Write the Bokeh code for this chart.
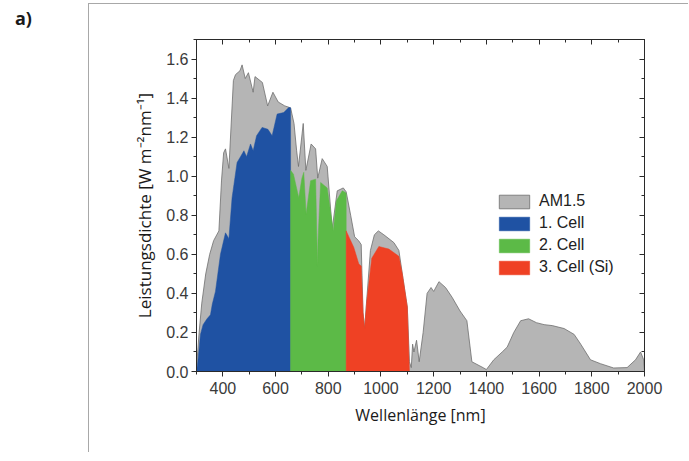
from bokeh.plotting import figure
from bokeh.models import (Range1d, LinearAxis, FixedTicker, PrintfTickFormatter,
                          Legend, LegendItem, Div)
from bokeh.layouts import row
from bokeh.embed import file_html
from bokeh.resources import INLINE

# ---------------- data ----------------
am15_nm = [300, 310, 320, 335, 350, 365, 385, 395, 403, 410, 423, 440, 448, 465, 473,
           485, 497, 515, 522, 550, 570, 590, 610, 635, 657, 670, 680, 687, 705, 715,
           735, 752, 760, 777, 796, 815, 834, 857, 868, 885, 900, 915, 925, 932, 938,
           945, 960, 975, 990, 1011, 1049, 1068, 1081, 1100, 1108, 1115, 1120, 1125,
           1135, 1145, 1160, 1175, 1190, 1200, 1220, 1245, 1270, 1300, 1326, 1345,
           1390, 1400, 1428, 1460, 1479, 1504, 1530, 1560, 1590, 1619, 1650, 1695,
           1733, 1758, 1795, 1833, 1883, 1934, 1966, 1985, 1997, 2000]
am15_val = [0.02, 0.20, 0.35, 0.50, 0.60, 0.67, 0.72, 0.98, 1.12, 1.14, 1.04, 1.49, 1.52,
            1.54, 1.57, 1.50, 1.53, 1.43, 1.51, 1.48, 1.36, 1.43, 1.38, 1.36, 1.35, 1.27,
            1.13, 1.05, 1.27, 1.03, 1.165, 1.14, 0.99, 1.09, 1.05, 0.73, 0.925, 0.94,
            0.92, 0.80, 0.69, 0.67, 0.65, 0.30, 0.22, 0.35, 0.62, 0.70, 0.72, 0.70, 0.66,
            0.62, 0.50, 0.33, 0.05, 0.02, 0.14, 0.10, 0.16, 0.05, 0.20, 0.40, 0.43, 0.41,
            0.46, 0.43, 0.38, 0.31, 0.26, 0.05, 0.018, 0.01, 0.06, 0.10, 0.125, 0.20,
            0.26, 0.27, 0.25, 0.24, 0.235, 0.22, 0.19, 0.14, 0.06, 0.04, 0.018, 0.02,
            0.06, 0.10, 0.06, 0.0]

cell1_nm = [300, 305, 315, 325, 340, 353, 360, 372, 391, 410, 423, 435, 454, 467, 480,
            490, 505, 515, 528, 549, 571, 587, 606, 631, 650, 657]
cell1_val = [0.0, 0.05, 0.19, 0.24, 0.27, 0.29, 0.345, 0.41, 0.60, 0.71, 0.68, 0.89, 1.07,
             1.10, 1.13, 1.10, 1.165, 1.13, 1.207, 1.25, 1.24, 1.207, 1.318, 1.326, 1.352,
             1.35]

cell2_nm = [657, 668, 688, 700, 707, 716, 733, 752, 757, 759, 761, 771, 796, 819, 831,
            853, 865, 868]
cell2_val = [1.03, 1.01, 0.89, 0.99, 1.02, 0.806, 0.977, 0.985, 0.67, 0.54, 0.67, 0.968,
             0.94, 0.72, 0.874, 0.925, 0.917, 0.91]

cell3_nm = [868, 897, 916, 925, 932, 938, 946, 965, 992, 1030, 1068, 1081, 1100, 1108]
cell3_val = [0.72, 0.635, 0.55, 0.54, 0.30, 0.22, 0.36, 0.58, 0.64, 0.627, 0.59, 0.50,
             0.33, 0.0]

series_names = ["AM1.5", "1. Cell", "2. Cell", "3. Cell (Si)"]
x_ticks = [400, 600, 800, 1000, 1200, 1400, 1600, 1800, 2000]
x_minor = [300, 500, 700, 900, 1100, 1300, 1500, 1700, 1900]
y_ticks = [0.0, 0.2, 0.4, 0.6, 0.8, 1.0, 1.2, 1.4, 1.6]
y_minor = [0.1, 0.3, 0.5, 0.7, 0.9, 1.1, 1.3, 1.5, 1.7]
panel_label = "a)"

# ---------------- figure ----------------
p = figure(width=600, height=449, output_backend="svg", toolbar_location=None,
           x_range=Range1d(300, 2000), y_range=Range1d(0, 1.7),
           min_border_left=107, min_border_right=45, min_border_top=35,
           min_border_bottom=82, background_fill_color="white",
           border_fill_color="white", x_axis_location=None, y_axis_location=None)
p.grid.visible = False
p.outline_line_color = "#2a2a2a"
p.outline_line_width = 1
p.margin = (3, 0, 0, 0)
p.styles = {"border-left": "1px solid #a8a8a8", "border-top": "1px solid #a8a8a8"}


def closed(xs, ys):
    return [xs[0]] + list(xs) + [xs[-1]], [0] + list(ys) + [0]


colors = ["#b5b5b5", "#1f52a3", "#5cba47", "#ef4124"]
data = [(am15_nm, am15_val), (cell1_nm, cell1_val), (cell2_nm, cell2_val),
        (cell3_nm, cell3_val)]
renderers = []
for i, ((xs, ys), c) in enumerate(zip(data, colors)):
    cx, cy = closed(xs, ys)
    r = p.patch(cx, cy, fill_color=c,
                line_color="#6e6e6e" if i == 0 else c,
                line_width=0.8 if i == 0 else 0.5)
    renderers.append(r)

# ---------------- axes ----------------
xt = FixedTicker(ticks=x_ticks, minor_ticks=x_minor)
yt = FixedTicker(ticks=y_ticks, minor_ticks=y_minor)
fmt = PrintfTickFormatter(format="%.1f")

xb = LinearAxis(ticker=xt, axis_label="Wellenlänge [nm]")
yl = LinearAxis(ticker=yt, formatter=fmt,
                axis_label="Leistungsdichte [W m\u207b\u00b2nm\u207b\u00b9]")
xa = LinearAxis(ticker=xt)
yr = LinearAxis(ticker=yt, formatter=fmt)

for ax in (xb, yl, xa, yr):
    ax.axis_line_color = "#2a2a2a"
    ax.major_tick_line_color = "#2a2a2a"
    ax.minor_tick_line_color = "#2a2a2a"
    ax.major_label_text_font = "Liberation Sans"
    ax.major_label_text_font_size = "16px"
    ax.major_label_text_color = "#3a3a3a"
    ax.axis_label_text_font = "Open Sans"
    ax.axis_label_text_font_style = "normal"
    ax.axis_label_text_color = "#1a1a1a"

xb.axis_label_text_font_size = "16px"
yl.axis_label_text_font_size = "17px"

for ax in (xb, yl):
    ax.major_tick_out = 5
    ax.major_tick_in = 0
    ax.minor_tick_out = 3
    ax.minor_tick_in = 0
xb.major_label_standoff = 5
yl.major_label_standoff = 3
xb.axis_label_standoff = 7
yl.axis_label_standoff = 7

for ax in (xa, yr):
    ax.major_tick_out = 0
    ax.major_tick_in = 5
    ax.minor_tick_out = 0
    ax.minor_tick_in = 3
    ax.major_label_standoff = 0
    ax.major_label_text_color = None

p.add_layout(xb, "below")
p.add_layout(yl, "left")
p.add_layout(xa, "above")
p.add_layout(yr, "right")

# ---------------- legend ----------------
legend = Legend(items=[LegendItem(label=n, renderers=[r])
                       for n, r in zip(series_names, renderers)],
                location=(299, 95), glyph_width=38, glyph_height=17, spacing=4,
                padding=0, margin=0, border_line_color=None,
                background_fill_alpha=0, label_text_font="Liberation Sans",
                label_text_font_size="16px", label_text_color="#222222",
                label_standoff=6, label_height=17)
p.add_layout(legend, "center")

# ---------------- panel label ----------------
lab = Div(text=("<div style=\"margin:9px 0 0 15px; font-family:'Open Sans';"
                "font-weight:bold; font-size:18px; color:#1a1a1a; line-height:1\">"
                + panel_label + "</div>"),
          width=88, height=453, margin=0)

layout = row(lab, p)
open("out.html", "w").write(file_html(layout, INLINE))
